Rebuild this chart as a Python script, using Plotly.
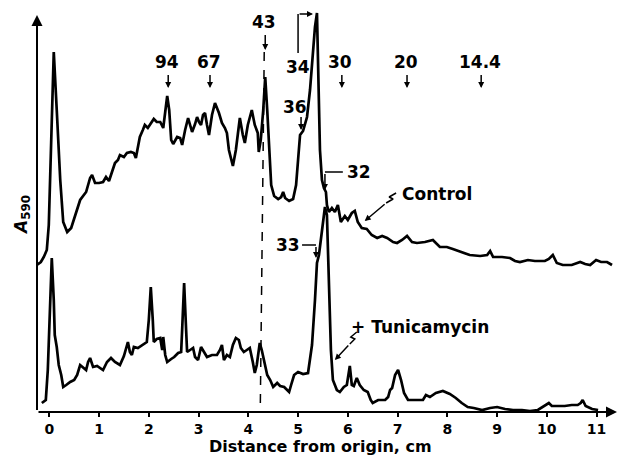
import plotly.graph_objects as go

# ---- data (distance in cm, absorbance in arbitrary units) ----
control_x = [-0.25, -0.17, -0.11, -0.05, -0.01, 0.03, 0.09, 0.15, 0.22, 0.28, 0.36, 0.44, 0.54, 0.62, 0.74,
             0.82, 0.86, 0.92, 1.00, 1.08, 1.14, 1.20, 1.26, 1.32, 1.38, 1.42, 1.50, 1.56, 1.64, 1.70,
             1.74, 1.78, 1.82, 1.88, 1.92, 1.98, 2.04, 2.10, 2.16, 2.23, 2.29, 2.33, 2.37, 2.41, 2.45,
             2.49, 2.57, 2.63, 2.67, 2.73, 2.79, 2.83, 2.87, 2.93, 2.97, 3.01, 3.05, 3.09, 3.13, 3.17,
             3.21, 3.27, 3.33, 3.41, 3.47, 3.53, 3.57, 3.61, 3.65, 3.69, 3.75, 3.83, 3.89, 3.93, 3.99,
             4.07, 4.13, 4.19, 4.21, 4.25, 4.30, 4.34, 4.38, 4.42, 4.46, 4.52, 4.60, 4.66, 4.70, 4.74,
             4.82, 4.90, 4.96, 5.00, 5.04, 5.10, 5.18, 5.24, 5.28, 5.34, 5.38, 5.40, 5.44, 5.48, 5.52,
             5.56, 5.58, 5.62, 5.68, 5.74, 5.80, 5.86, 5.94, 6.00, 6.08, 6.14, 6.20, 6.28, 6.38, 6.48,
             6.59, 6.69, 6.79, 6.91, 6.99, 7.09, 7.19, 7.29, 7.39, 7.55, 7.71, 7.85, 7.99, 8.11, 8.29,
             8.45, 8.66, 8.80, 8.86, 8.92, 9.10, 9.26, 9.36, 9.46, 9.62, 9.76, 9.96, 10.04, 10.12, 10.20,
             10.32, 10.50, 10.67, 10.77, 10.87, 10.99, 11.09, 11.21, 11.31]
control_y = [1.47, 1.50, 1.55, 1.62, 1.87, 2.62, 3.60, 3.02, 2.32, 1.90, 1.80, 1.84, 2.00, 2.12, 2.20,
             2.34, 2.37, 2.29, 2.29, 2.30, 2.35, 2.31, 2.40, 2.49, 2.52, 2.57, 2.55, 2.59, 2.60, 2.59,
             2.54, 2.64, 2.75, 2.82, 2.87, 2.84, 2.88, 2.93, 2.90, 2.90, 2.84, 3.00, 3.16, 3.02, 2.72,
             2.68, 2.75, 2.74, 2.67, 2.82, 2.94, 2.87, 2.80, 2.88, 2.95, 2.90, 2.87, 2.97, 2.99, 2.87,
             2.77, 2.97, 3.09, 2.99, 2.89, 2.84, 2.79, 2.62, 2.54, 2.46, 2.62, 2.94, 2.77, 2.69, 2.87,
             3.02, 2.87, 2.79, 2.60, 2.72, 3.02, 3.35, 3.02, 2.62, 2.27, 2.16, 2.13, 2.15, 2.20, 2.14,
             2.11, 2.13, 2.27, 2.52, 2.77, 2.81, 2.95, 3.22, 3.45, 3.85, 3.99, 3.52, 2.62, 2.32, 2.24,
             2.20, 2.07, 2.00, 2.04, 2.00, 2.07, 1.90, 1.96, 1.92, 1.99, 2.01, 1.90, 1.84, 1.83, 1.77,
             1.74, 1.76, 1.74, 1.70, 1.69, 1.72, 1.76, 1.70, 1.69, 1.70, 1.72, 1.65, 1.65, 1.63, 1.60,
             1.57, 1.56, 1.57, 1.61, 1.55, 1.55, 1.54, 1.51, 1.50, 1.52, 1.51, 1.51, 1.53, 1.57, 1.49,
             1.47, 1.47, 1.50, 1.48, 1.47, 1.52, 1.50, 1.50, 1.47]

tunica_x = [-0.15, -0.07, -0.03, 0.01, 0.05, 0.09, 0.11, 0.15, 0.19, 0.24, 0.28, 0.34, 0.42, 0.50, 0.56,
            0.62, 0.68, 0.74, 0.78, 0.82, 0.88, 0.96, 1.08, 1.16, 1.24, 1.32, 1.42, 1.50, 1.58, 1.62,
            1.66, 1.70, 1.78, 1.88, 1.96, 2.00, 2.04, 2.08, 2.10, 2.16, 2.23, 2.27, 2.29, 2.33, 2.37,
            2.45, 2.51, 2.59, 2.65, 2.67, 2.71, 2.75, 2.77, 2.83, 2.89, 2.93, 2.99, 3.05, 3.09, 3.17,
            3.27, 3.37, 3.43, 3.47, 3.51, 3.57, 3.63, 3.69, 3.75, 3.81, 3.85, 3.91, 3.97, 4.03, 4.09,
            4.13, 4.17, 4.23, 4.27, 4.31, 4.38, 4.44, 4.50, 4.58, 4.64, 4.72, 4.78, 4.82, 4.86, 4.92,
            5.00, 5.10, 5.20, 5.28, 5.34, 5.38, 5.42, 5.48, 5.54, 5.58, 5.62, 5.66, 5.70, 5.78, 5.84,
            5.92, 5.98, 6.02, 6.04, 6.08, 6.12, 6.18, 6.24, 6.32, 6.40, 6.46, 6.50, 6.61, 6.75, 6.81,
            6.85, 6.89, 6.95, 7.01, 7.07, 7.13, 7.21, 7.35, 7.51, 7.57, 7.65, 7.77, 7.91, 8.05, 8.17,
            8.29, 8.41, 8.53, 8.70, 8.86, 9.00, 9.16, 9.32, 9.50, 9.66, 9.82, 9.98, 10.04, 10.10, 10.22,
            10.36, 10.50, 10.62, 10.68, 10.72, 10.78, 10.91, 11.03]
tunica_y = [0.09, 0.12, 0.42, 1.02, 1.54, 1.12, 0.77, 0.65, 0.47, 0.37, 0.25, 0.27, 0.30, 0.32, 0.37,
            0.47, 0.44, 0.42, 0.50, 0.54, 0.45, 0.46, 0.42, 0.50, 0.54, 0.50, 0.47, 0.56, 0.70, 0.60,
            0.57, 0.65, 0.64, 0.67, 0.70, 0.92, 1.25, 0.92, 0.70, 0.73, 0.74, 0.62, 0.75, 0.57, 0.50,
            0.53, 0.55, 0.59, 0.60, 0.82, 1.29, 0.82, 0.60, 0.62, 0.64, 0.55, 0.52, 0.65, 0.62, 0.55,
            0.57, 0.57, 0.62, 0.67, 0.52, 0.57, 0.55, 0.67, 0.74, 0.72, 0.64, 0.60, 0.62, 0.64, 0.50,
            0.39, 0.47, 0.69, 0.62, 0.52, 0.37, 0.32, 0.25, 0.29, 0.26, 0.25, 0.22, 0.20, 0.27, 0.37,
            0.40, 0.38, 0.39, 0.67, 1.12, 1.49, 1.57, 1.82, 2.05, 1.97, 1.22, 0.62, 0.32, 0.22, 0.20,
            0.25, 0.27, 0.42, 0.46, 0.27, 0.26, 0.34, 0.27, 0.22, 0.20, 0.12, 0.09, 0.12, 0.12, 0.15,
            0.22, 0.24, 0.37, 0.42, 0.32, 0.19, 0.12, 0.12, 0.12, 0.17, 0.15, 0.19, 0.21, 0.18, 0.14,
            0.09, 0.05, 0.04, 0.02, 0.04, 0.05, 0.03, 0.02, 0.02, 0.01, 0.02, 0.07, 0.09, 0.06, 0.06,
            0.06, 0.07, 0.07, 0.09, 0.12, 0.06, 0.03, 0.02]

marker_labels = ["94", "67", "43", "30", "20", "14.4"]
marker_x = [2.39, 3.23, 4.34, 5.88, 7.19, 8.68]
tick_vals = list(range(0, 12))
tick_text = [str(v) for v in tick_vals]

XMIN, XMAX = -0.247, 11.41
YMIN, YMAX = 0.0, 4.0
FONT = "DejaVu Sans"

fig = go.Figure()
fig.add_trace(go.Scatter(x=control_x, y=control_y, mode="lines",
                         line=dict(color="black", width=2.7), hoverinfo="skip"))
fig.add_trace(go.Scatter(x=tunica_x, y=tunica_y, mode="lines",
                         line=dict(color="black", width=2.7), hoverinfo="skip"))

# squiggles on the label arrows
fig.add_trace(go.Scatter(x=[6.97, 6.83, 6.91, 6.77], y=[2.19, 2.15, 2.13, 2.09], mode="lines",
                         line=dict(color="black", width=1.5), hoverinfo="skip"))
fig.add_trace(go.Scatter(x=[6.18, 6.06, 6.14, 6.04], y=[0.80, 0.75, 0.73, 0.68], mode="lines",
                         line=dict(color="black", width=1.5), hoverinfo="skip"))

ann = []
def arrow(x0, y0, x1, y1, w=1.5, head=2, size=1.0):
    ann.append(dict(x=x1, y=y1, ax=x0, ay=y0, xref="x", yref="y", axref="x", ayref="y",
                    text=" ", showarrow=True, arrowhead=head, arrowsize=size, arrowwidth=w,
                    arrowcolor="black", standoff=0, startstandoff=0,
                    font=dict(size=1)))

def label(x, y, t, size=17, xanchor="center"):
    ann.append(dict(x=x, y=y, xref="x", yref="y", text=t, showarrow=False, xanchor=xanchor,
                    yanchor="middle", font=dict(family=FONT, size=size, color="black", weight="bold")))

# axes with arrowheads
arrow(XMIN, 0, XMIN, 3.97, w=2, head=2, size=1.1)
arrow(XMIN, 0, XMAX, 0, w=2, head=2, size=1.1)

# molecular weight markers
for lab, mx in zip(marker_labels, marker_x):
    if lab == "43":
        label(mx - 0.03, 3.90, lab)
        arrow(mx, 3.79, mx, 3.62, w=1.5, head=2, size=0.8)
    else:
        label(mx - 0.03, 3.50, lab)
        arrow(mx, 3.39, mx, 3.24, w=1.5, head=2, size=0.8)

# peak labels
label(5.00, 3.45, "34")
arrow(5.00, 3.98, 5.30, 3.98, w=1.5, head=2, size=0.8)
label(4.94, 3.05, "36")
arrow(5.06, 2.97, 5.06, 2.82, w=1.5, head=2, size=0.8)
label(5.94, 2.40, "32", xanchor="left")
arrow(5.54, 2.40, 5.54, 2.22, w=1.5, head=2, size=0.8)
label(4.80, 1.67, "33")
arrow(5.36, 1.67, 5.36, 1.54, w=1.5, head=2, size=0.8)
label(7.79, 2.18, "Control")
arrow(6.77, 2.09, 6.34, 1.91, w=1.5, head=2, size=0.8)
label(7.45, 0.85, "+ Tunicamycin")
arrow(6.04, 0.68, 5.74, 0.52, w=1.5, head=2, size=0.8)

# axis titles
ann.append(dict(x=0.488, y=-0.0875, xref="paper", yref="paper", text="Distance from origin, cm",
                showarrow=False, xanchor="center", yanchor="middle",
                font=dict(family=FONT, size=16, color="black", weight="bold")))
ann.append(dict(x=-0.026, y=1.97, xref="paper", yref="y", text="<i>A</i><sub>590</sub>",
                showarrow=False, xanchor="center", yanchor="middle", textangle=-90,
                font=dict(family=FONT, size=17, color="black", weight="bold")))

shapes = [
    dict(type="line", xref="x", yref="y", x0=4.32, y0=3.60, x1=4.24, y1=0,
         line=dict(color="black", width=1.5, dash="dash")),
    dict(type="line", xref="x", yref="y", x0=5.00, y0=3.59, x1=5.00, y1=3.98,
         line=dict(color="black", width=1.5)),
    dict(type="line", xref="x", yref="y", x0=5.90, y0=2.40, x1=5.54, y1=2.40,
         line=dict(color="black", width=1.5)),
    dict(type="line", xref="x", yref="y", x0=5.08, y0=1.67, x1=5.36, y1=1.67,
         line=dict(color="black", width=1.5)),
]

fig.update_layout(
    width=622, height=458, autosize=False,
    margin=dict(l=37, r=5, t=12, b=46),
    paper_bgcolor="white", plot_bgcolor="white",
    showlegend=False,
    annotations=ann, shapes=shapes,
    xaxis=dict(range=[XMIN, XMAX], tickvals=tick_vals, ticktext=tick_text,
               ticks="outside", ticklen=4, tickwidth=1.5, tickcolor="black",
               showgrid=False, zeroline=False, showline=False,
               tickfont=dict(family=FONT, size=14, color="black", weight="bold")),
    yaxis=dict(range=[YMIN, YMAX], visible=False, showgrid=False, zeroline=False),
)

fig.write_html("out.html")
